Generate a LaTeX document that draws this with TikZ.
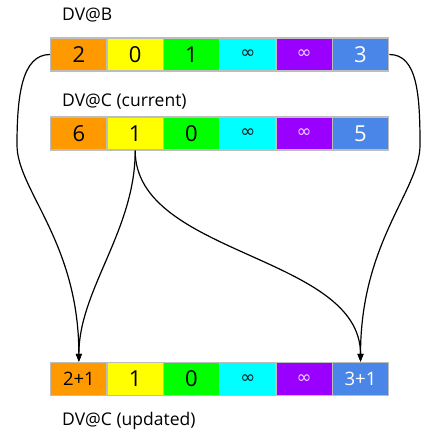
\documentclass[tikz,border=0pt]{standalone}
\usepackage{fontspec}
\setmainfont{Open Sans}
\newfontfamily\symfont{DejaVu Sans}
\usetikzlibrary{arrows.meta}

\definecolor{cOrange}{HTML}{FF9900}
\definecolor{cYellow}{HTML}{FFFF00}
\definecolor{cGreen}{HTML}{00FF00}
\definecolor{cCyan}{HTML}{00FFFF}
\definecolor{cPurple}{HTML}{9900FF}
\definecolor{cBlue}{HTML}{4A86E8}
\definecolor{cBorder}{HTML}{BDBDBD}
\definecolor{infDark}{HTML}{052020}
\definecolor{infLight}{HTML}{EED6FF}

\newcommand{\infsym}{{\symfont\fontsize{18}{18}\selectfont ∞}}

\tikzset{
  cell/.style={draw=cBorder, line width=1.4pt, minimum width=56.33pt,
    minimum height=33pt, inner sep=0pt, anchor=west,
    font=\fontsize{22}{22}\selectfont},
  small/.style={font=\fontsize{18.5}{18.5}\selectfont},
  title/.style={anchor=base west, inner sep=0pt, font=\fontsize{17.5}{17.5}\selectfont},
  link/.style={line width=1.2pt, -{Triangle[length=8pt,width=6pt]}},
}

\begin{document}
\begin{tikzpicture}[x=1pt, y=-1pt]
\useasboundingbox (0,0) rectangle (427,435);

% headings
\node[title] (tb) at (62,20.5) {DV@B};
\node[title] (tc) at (62,106.5) {DV@C (current)};
\node[title] (tu) at (62,425) {DV@C (updated)};

% distance vector of B
\foreach \t/\f/\c [count=\i from 0] in
  {2/cOrange/black, 0/cYellow/black, 1/cGreen/black,
   \textcolor{infDark}{\infsym}/cCyan/black, \textcolor{infLight}{\infsym}/cPurple/white, 3/cBlue/white}
  \node[cell, fill=\f, text=\c] (b\i) at (50+\i*56.33, 54.5) {\t};

% current distance vector of C
\foreach \t/\f/\c [count=\i from 0] in
  {6/cOrange/black, 1/cYellow/black, 0/cGreen/black,
   \textcolor{infDark}{\infsym}/cCyan/black, \textcolor{infLight}{\infsym}/cPurple/white, 5/cBlue/white}
  \node[cell, fill=\f, text=\c] (c\i) at (50+\i*56.33, 133.5) {\t};

% updated distance vector of C
\foreach \t/\f/\c/\s [count=\i from 0] in
  {2+1/cOrange/black/small, 1/cYellow/black/cell, 0/cGreen/black/cell,
   \textcolor{infDark}{\infsym}/cCyan/black/cell, \textcolor{infLight}{\infsym}/cPurple/white/cell, 3+1/cBlue/white/small}
  \node[cell, \s, fill=\f, text=\c] (u\i) at (50+\i*56.33, 379) {\t};

% turning points of the outer curves
\coordinate (lw) at (17,145);
\coordinate (rw) at (420,145);

% connectors
\draw[link] (b0.west) .. controls +(-28,0) and +(0,-50) .. (lw)
  .. controls +(0,45) and +(0,-120) .. (u0.north);
\draw[link] (c1.south) .. controls +(0,80) and +(0,-72) .. (u0.north);
\draw[link] (c1.south) .. controls +(0,105) and +(0,-107) .. (u5.north);
\draw[link] (b5.east) .. controls +(28,0) and +(0,-50) .. (rw)
  .. controls +(0,45) and +(0,-120) .. (u5.north);
\end{tikzpicture}
\end{document}
